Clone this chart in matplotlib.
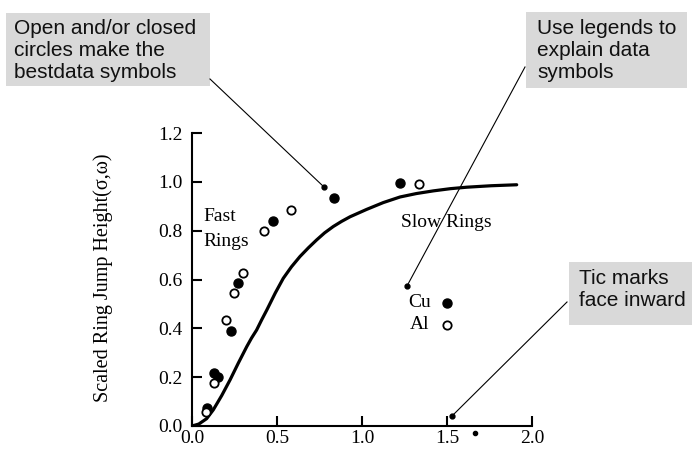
import matplotlib
matplotlib.use("Agg")
from matplotlib import pyplot as plt
from matplotlib.lines import Line2D
from matplotlib.patches import Rectangle

# Data
cu_x = [0.086, 0.131, 0.155, 0.227, 0.270, 0.475, 0.833, 1.224]
cu_y = [0.072, 0.218, 0.202, 0.390, 0.587, 0.841, 0.933, 0.995]
al_x = [0.082, 0.131, 0.198, 0.249, 0.302, 0.425, 0.582, 1.337]
al_y = [0.059, 0.175, 0.434, 0.546, 0.626, 0.800, 0.885, 0.990]

curve_x = [0.0, 0.04, 0.086, 0.125, 0.175, 0.224, 0.272, 0.322, 0.35, 0.38, 0.41,
           0.44, 0.49, 0.537, 0.585, 0.635, 0.685, 0.733, 0.78, 0.831, 0.88, 0.93,
           1.027, 1.125, 1.224, 1.32, 1.42, 1.52, 1.616, 1.76, 1.91]
curve_y = [0.0, 0.008, 0.030, 0.066, 0.125, 0.189, 0.257, 0.325, 0.36, 0.393, 0.435,
           0.475, 0.545, 0.605, 0.652, 0.694, 0.730, 0.762, 0.791, 0.817, 0.838, 0.857,
           0.887, 0.915, 0.938, 0.952, 0.963, 0.972, 0.978, 0.984, 0.988]

x_ticks = [0.0, 0.5, 1.0, 1.5, 2.0]
y_ticks = [0.0, 0.2, 0.4, 0.6, 0.8, 1.0, 1.2]

W, H = 696, 454
SERIF = "Liberation Serif"
SANS = "Liberation Sans"
BOX = "#d9d9d9"


def fx(px):
    return px / W


def fy(py):
    return 1 - py / H


fig = plt.figure(figsize=(6.96, 4.54), dpi=100)
ax = fig.add_axes([fx(192), fy(426), fx(532) - fx(192), fy(133) - fy(426)])

ax.plot(curve_x, curve_y, color="black", lw=2.3, solid_capstyle="round",
        solid_joinstyle="round")
ax.plot(cu_x, cu_y, "o", color="black", ms=6.5, ls="none")
ax.plot(al_x, al_y, "o", mfc="white", mec="black", mew=1.3, ms=6, ls="none")

# legend drawn as in the original, text and symbols inside the axes
ax.text(1.27, 0.505, "Cu", fontsize=14, family=SERIF, va="center", ha="left")
ax.text(1.28, 0.414, "Al", fontsize=14, family=SERIF, va="center", ha="left")
ax.plot([1.498], [0.505], "o", color="black", ms=6.5)
ax.plot([1.498], [0.414], "o", mfc="white", mec="black", mew=1.3, ms=6)

ax.text(0.065, 0.857, "Fast", fontsize=14, family=SERIF, va="center", ha="left")
ax.text(0.065, 0.755, "Rings", fontsize=14, family=SERIF, va="center", ha="left")
ax.text(1.498, 0.832, "Slow Rings", fontsize=14, family=SERIF, va="center", ha="center")

ax.set_xlim(0, 2.0)
ax.set_ylim(0, 1.2)
ax.set_xticks(x_ticks)
ax.set_yticks(y_ticks)
ax.set_xticklabels([f"{v:.1f}" for v in x_ticks], family=SERIF, fontsize=14)
ax.set_yticklabels([f"{v:.1f}" for v in y_ticks], family=SERIF, fontsize=14)
ax.tick_params(axis="y", direction="in", length=7, width=1.5, pad=7)
ax.tick_params(axis="x", direction="in", length=7, width=1.5, pad=3)
for s in ["top", "right"]:
    ax.spines[s].set_visible(False)
for s in ["left", "bottom"]:
    ax.spines[s].set_linewidth(1.5)
ax.patch.set_visible(False)

fig.text(fx(103), fy(278), "Scaled Ring Jump Height(σ,ω)", rotation=90,
         family=SERIF, fontsize=14.5, ha="center", va="center")

# callout boxes
boxes = [
    (6, 13, 210, 86, 14, ["Open and/or closed", "circles make the", "bestdata symbols"]),
    (526, 12, 687, 88, 537, ["Use legends to", "explain data", "symbols"]),
    (569, 262, 692, 325, 579, ["Tic marks", "face inward"]),
]
for x0, y0, x1, y1, tx, lines in boxes:
    fig.patches.append(Rectangle((fx(x0), fy(y1)), fx(x1) - fx(x0), fy(y0) - fy(y1),
                                 transform=fig.transFigure, facecolor=BOX,
                                 edgecolor="none", zorder=0))
    for i, t in enumerate(lines):
        fig.text(fx(tx), fy(y0 + 16 + 22 * i), t, family=SANS, fontsize=15,
                 ha="left", va="center", color="#111111")

# leader lines with a dot at the tip
leaders = [
    ((210, 79), (324, 187)),
    ((525, 67), (407, 286)),
    ((567, 302), (452, 416)),
]
for (xa, ya), (xb, yb) in leaders:
    fig.add_artist(Line2D([fx(xa), fx(xb)], [fy(ya), fy(yb)], color="black", lw=0.8,
                          transform=fig.transFigure))
    fig.add_artist(Line2D([fx(xb)], [fy(yb)], marker="o", ms=3.5, color="black",
                          transform=fig.transFigure))
fig.add_artist(Line2D([fx(475)], [fy(433)], marker="o", ms=3, color="black",
                      transform=fig.transFigure))

fig.savefig("out.png", dpi=100)
